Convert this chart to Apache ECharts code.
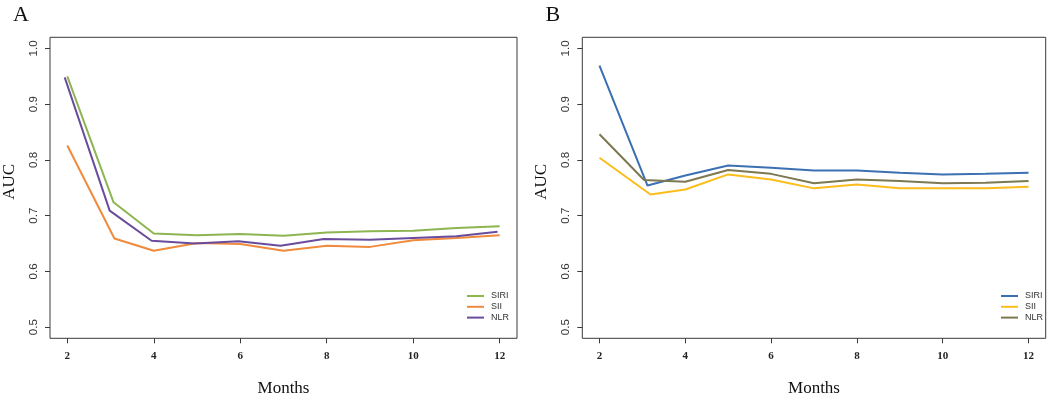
<!DOCTYPE html>
<html><head><meta charset="utf-8">
<script src="https://cdn.jsdelivr.net/npm/echarts@6/dist/echarts.min.js"></script>
<style>html,body{margin:0;padding:0;background:#fff}#c{width:1052px;height:395px}</style>
</head><body><div id="c"></div>
<script>
// ---- data ----
const xTicks = [2, 4, 6, 8, 10, 12];
const yTicks = [0.5, 0.6, 0.7, 0.8, 0.9, 1.0];
const panelLabels = ['A', 'B'];
const seriesNames = ['SIRI', 'SII', 'NLR'];

// Panel A
const aSiriMonths = [2, 3.07, 4, 5, 6, 7, 8, 9, 10, 11, 12];
const aSiriAUC    = [0.950, 0.724, 0.668, 0.665, 0.667, 0.664, 0.670, 0.672, 0.673, 0.678, 0.681];
const aSiiMonths  = [2, 3.09, 4, 5, 6, 7, 8, 9, 10, 11, 12];
const aSiiAUC     = [0.826, 0.659, 0.637, 0.651, 0.649, 0.637, 0.646, 0.644, 0.656, 0.660, 0.665];
const aNlrMonths  = [1.94, 2.98, 3.95, 4.95, 5.96, 6.93, 7.93, 9, 10, 11, 11.95];
const aNlrAUC     = [0.948, 0.709, 0.655, 0.650, 0.654, 0.646, 0.658, 0.657, 0.660, 0.663, 0.671];

// Panel B
const bSiriMonths = [2, 3.12, 4, 5, 6, 7, 8, 9, 10, 11, 12];
const bSiriAUC    = [0.969, 0.754, 0.772, 0.790, 0.786, 0.781, 0.781, 0.777, 0.774, 0.775, 0.777];
const bSiiMonths  = [2, 3.19, 4, 5, 6, 7, 8, 9, 10, 11, 12];
const bSiiAUC     = [0.804, 0.738, 0.747, 0.774, 0.765, 0.749, 0.756, 0.749, 0.749, 0.749, 0.752];
const bNlrMonths  = [2, 3.04, 4, 5, 6, 7, 8, 9, 10, 11, 12];
const bNlrAUC     = [0.846, 0.764, 0.761, 0.782, 0.775, 0.758, 0.765, 0.762, 0.758, 0.759, 0.762];

const colorsA = ['#8db551', '#f08a3c', '#6a4c9d'];
const colorsB = ['#3b70b2', '#fbbd1b', '#7c7851'];

// ---- build ----
const zip = (xs, ys) => xs.map((x, i) => [x, ys[i]]);
const panelData = [
  [zip(aSiriMonths, aSiriAUC), zip(aSiiMonths, aSiiAUC), zip(aNlrMonths, aNlrAUC)],
  [zip(bSiriMonths, bSiriAUC), zip(bSiiMonths, bSiiAUC), zip(bNlrMonths, bNlrAUC)]
];
const panelColors = [colorsA, colorsB];

const grids = [
  { left: 50, top: 37.3, width: 467, height: 301 },
  { left: 582.3, top: 37.3, width: 463.4, height: 301 }
];
const legendPos = [{ left: 467, top: 291 }, { left: 1001, top: 291 }];

const serif = '"Liberation Serif", "Times New Roman", serif';
const sans = '"Liberation Sans", Arial, sans-serif';

const option = {
  animation: false,
  backgroundColor: '#fff',
  grid: grids.map(g => Object.assign({ show: true, borderColor: '#3a3a3a', borderWidth: 1, backgroundColor: 'transparent',
    containLabel: false, outerBoundsMode: 'none' }, g)),
  xAxis: grids.map((g, i) => ({
    type: 'value', gridIndex: i, min: 1.6, max: 12.4,
    name: 'Months', nameLocation: 'middle', nameGap: 42,
    nameTextStyle: { fontFamily: serif, fontSize: 17, color: '#111' },
    axisLine: { show: false },
    axisTick: { show: true, length: 5, inside: false, customValues: xTicks, lineStyle: { color: '#3a3a3a' } },
    axisLabel: { customValues: xTicks, margin: 12, fontFamily: serif, fontSize: 11, fontWeight: 'bold', color: '#222' },
    splitLine: { show: false }
  })),
  yAxis: grids.map((g, i) => ({
    type: 'value', gridIndex: i, min: 0.48, max: 1.02,
    name: 'AUC', nameLocation: 'middle', nameGap: 32,
    nameTextStyle: { fontFamily: serif, fontSize: 17, color: '#111', padding: [0, 0, 0, 12] },
    axisLine: { show: false },
    axisTick: { show: true, length: 5, inside: false, customValues: yTicks, lineStyle: { color: '#3a3a3a' } },
    axisLabel: { customValues: yTicks, rotate: 90, margin: 10, fontFamily: sans, fontSize: 11.5, color: '#333',
      formatter: v => v.toFixed(1) },
    splitLine: { show: false }
  })),
  legend: legendPos.map((p, i) => Object.assign({
    orient: 'vertical', icon: 'rect', itemWidth: 17, itemHeight: 2, itemGap: 0.8,
    padding: 0,
    data: seriesNames.map(n => n + '_' + i),
    formatter: name => name.split('_')[0],
    textStyle: { fontFamily: sans, fontSize: 9, lineHeight: 10, color: '#333', padding: [0, 0, 0, 2] }
  }, p)),
  graphic: panelLabels.map((t, i) => ({
    type: 'text', left: i === 0 ? 13 : 545.5, top: 4,
    style: { text: t, font: '22px ' + serif, fill: '#111' }
  })),
  series: []
};

panelData.forEach((sets, p) => {
  sets.forEach((d, k) => {
    option.series.push({
      type: 'line', name: seriesNames[k] + '_' + p,
      xAxisIndex: p, yAxisIndex: p,
      data: d, showSymbol: false, symbol: 'none',
      color: panelColors[p][k],
      lineStyle: { width: 2, color: panelColors[p][k] }
    });
  });
});

const chart = echarts.init(document.getElementById('c'), null, { renderer: 'canvas' });
chart.setOption(option);
</script>
</body></html>
